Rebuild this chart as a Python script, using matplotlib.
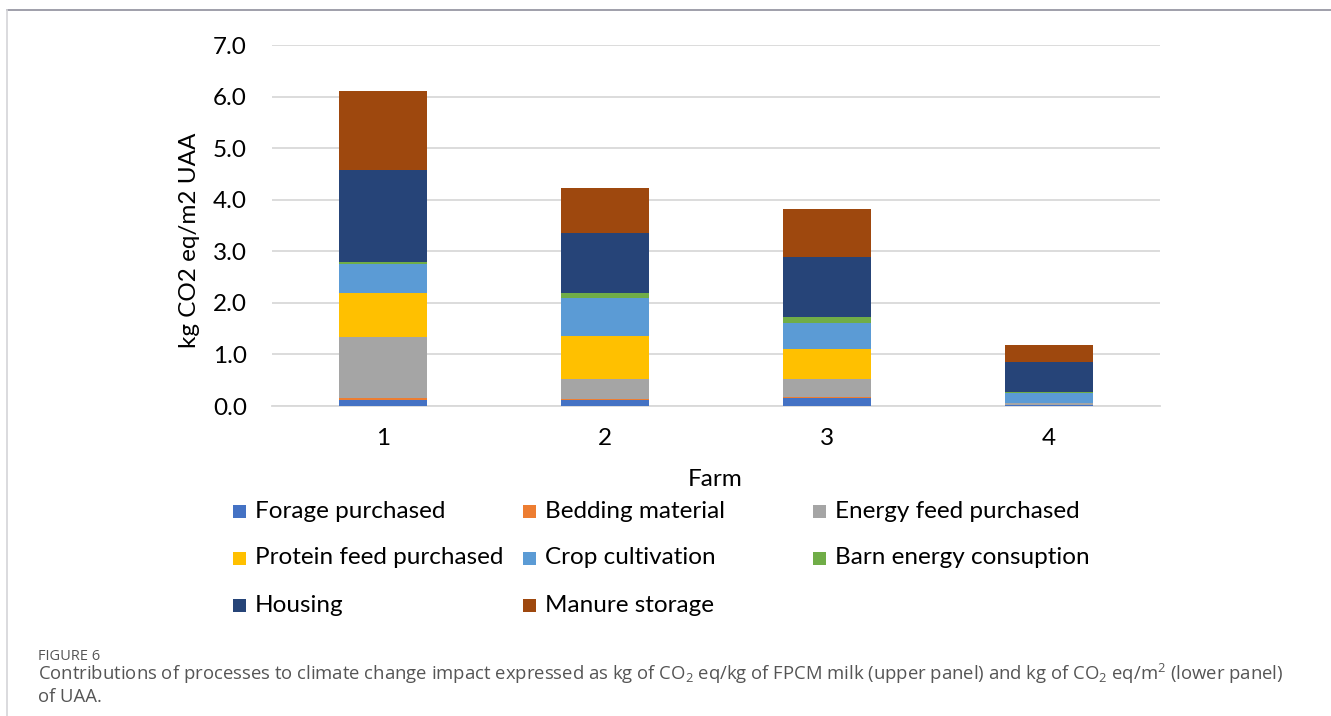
import matplotlib

matplotlib.use("Agg")
import matplotlib.pyplot as plt
import numpy as np
from matplotlib.patches import Rectangle
from matplotlib.lines import Line2D

plt.rcParams["font.family"] = ["Lato", "DejaVu Sans"]
plt.rcParams["mathtext.fontset"] = "custom"
plt.rcParams["mathtext.rm"] = "Open Sans"
plt.rcParams["mathtext.it"] = "Open Sans"

farms = ["1", "2", "3", "4"]
processes = ["Forage purchased", "Bedding material", "Energy feed purchased",
             "Protein feed purchased", "Crop cultivation", "Barn energy consuption",
             "Housing", "Manure storage"]
colors = ["#4472C4", "#ED7D31", "#A5A5A5", "#FFC000",
          "#5B9BD5", "#70AD47", "#264478", "#9E480E"]

forage = [0.11, 0.12, 0.15, 0.02]
bedding = [0.05, 0.01, 0.02, 0.00]
energy_feed = [1.17, 0.39, 0.35, 0.04]
protein_feed = [0.86, 0.84, 0.59, 0.00]
crop = [0.56, 0.73, 0.50, 0.19]
barn_energy = [0.04, 0.11, 0.12, 0.02]
housing = [1.79, 1.15, 1.16, 0.58]
manure = [1.53, 0.88, 0.93, 0.33]
series = [forage, bedding, energy_feed, protein_feed, crop, barn_energy, housing, manure]

W, H = 1331, 716
FS = 17.5
fig = plt.figure(figsize=(W / 100, H / 100), dpi=100)

# frame round the figure panel (top and left rules only)
fig.add_artist(Line2D([7 / W, 1], [1 - 10 / H] * 2, color="#8f8f9c", lw=1.2))
fig.add_artist(Line2D([7 / W] * 2, [0, 1 - 10 / H], color="#d4d4d8", lw=1.2))

ax = fig.add_axes([272 / W, 1 - 406 / H, 888 / W, 361 / H])
x = np.arange(len(farms))
bottom = np.zeros(len(farms))
for vals, col, name in zip(series, colors, processes):
    ax.bar(x, vals, width=0.4, bottom=bottom, color=col, lw=0, label=name, zorder=3)
    bottom += np.array(vals)

ax.set_xlim(-0.5, 3.5)
ax.set_ylim(0, 7)
ax.set_yticks(np.arange(0, 7.1, 1.0))
ax.set_yticklabels([f"{v:.1f}" for v in np.arange(0, 7.1, 1.0)])
ax.set_xticks(x)
ax.set_xticklabels(farms)
ax.grid(axis="y", color="#d9d9d9", lw=1.3, zorder=0)
ax.set_axisbelow(True)
for s in ["top", "right", "left"]:
    ax.spines[s].set_visible(False)
ax.spines["bottom"].set_color("#d9d9d9")
ax.spines["bottom"].set_linewidth(1.3)
ax.tick_params(length=0, labelsize=FS, colors="#000000")
ax.tick_params(axis="x", pad=16)
ax.tick_params(axis="y", pad=18)

fig.text(190 / W, 1 - 240 / H, "kg CO2 eq/m2 UAA", rotation=90, fontsize=FS,
         ha="center", va="center")
fig.text(715 / W, 1 - 480 / H, "Farm", fontsize=FS, ha="center", va="center")

# legend laid out in three rows like the spreadsheet chart
col_x = [233, 523, 813]
row_y = [511, 558, 605]
for i, (name, col) in enumerate(zip(processes, colors)):
    r, c = divmod(i, 3)
    px, py = col_x[c], row_y[r]
    fig.add_artist(Rectangle((px / W, 1 - (py + 6.5) / H), 13 / W, 13 / H,
                             color=col, transform=fig.transFigure, lw=0))
    fig.text((px + 22) / W, 1 - py / H, name, fontsize=FS, ha="left", va="center")

cap_font = ["Open Sans", "DejaVu Sans"]
fig.text(38 / W, 1 - 657 / H, "FIGURE 6", fontsize=10.5, color="#555555",
         family=cap_font, va="center")
fig.text(38 / W, 1 - 674 / H,
         "Contributions of processes to climate change impact expressed as kg of CO$_2$ eq/kg of FPCM milk "
         "(upper panel) and kg of CO$_2$ eq/m$^2$ (lower panel)",
         fontsize=13.3, color="#555555", family=cap_font, va="center")
fig.text(38 / W, 1 - 697 / H, "of UAA.", fontsize=13.3, color="#555555",
         family=cap_font, va="center")

fig.savefig("out.png", dpi=100)
